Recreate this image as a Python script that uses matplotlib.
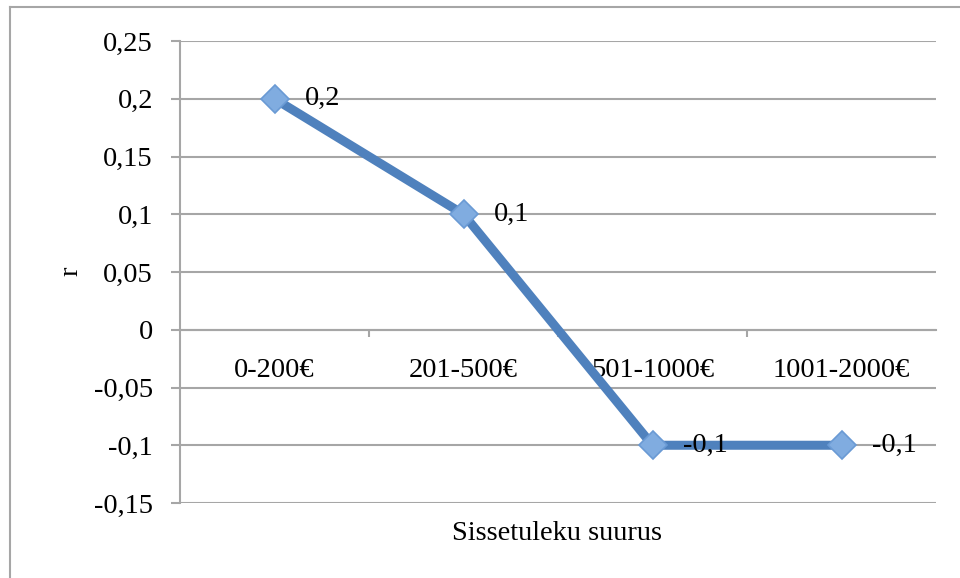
import matplotlib
matplotlib.use('Agg')
import matplotlib.pyplot as plt
from matplotlib.lines import Line2D
from matplotlib.ticker import FixedLocator

categories = ['0-200€', '201-500€', '501-1000€', '1001-2000€']
r_values = [0.2, 0.1, -0.1, -0.1]
value_labels = ['0,2', '0,1', '-0,1', '-0,1']
y_ticks = [0.25, 0.2, 0.15, 0.1, 0.05, 0, -0.05, -0.1, -0.15]
y_tick_labels = ['0,25', '0,2', '0,15', '0,1', '0,05', '0', '-0,05', '-0,1', '-0,15']

plt.rcParams['font.family'] = ['Liberation Serif', 'DejaVu Serif']
fs = 20.5
plt.rcParams['font.size'] = fs

grid_color = '#A6A6A6'
line_color = '#4F81BD'

fig = plt.figure(figsize=(9.6, 5.78), dpi=100)
ax = fig.add_axes([180 / 960, 1 - 503 / 578, 756 / 960, 462 / 578])

x = list(range(len(categories)))
ax.plot(x, r_values, color=line_color, linewidth=6.5, solid_capstyle='round',
        zorder=3)
ax.plot(x, r_values, linestyle='none', marker='D', markersize=14,
        markerfacecolor='#80ACE0', markeredgecolor='#6A9AD4',
        markeredgewidth=1.2, zorder=4)

for xi, yi, lab in zip(x, r_values, value_labels):
    ax.annotate(lab, (xi, yi), xytext=(22, 0), textcoords='offset points',
                ha='left', va='center', fontsize=fs, zorder=5)

ax.set_xlim(-0.5, len(categories) - 0.5)
ax.set_ylim(-0.15, 0.25)

ax.set_yticks(y_ticks)
ax.set_yticklabels(y_tick_labels)
ax.yaxis.grid(True, color=grid_color, linewidth=1.5)
ax.set_axisbelow(True)
ax.tick_params(axis='y', length=6.5, width=1.5, color=grid_color, pad=13)

# category axis sits on the zero line
ax.spines['bottom'].set_position(('data', 0))
ax.set_xticks(x)
ax.set_xticklabels(categories)
ax.tick_params(axis='x', which='major', length=0, pad=20)
ax.xaxis.set_minor_locator(FixedLocator([0.5, 1.5, 2.5]))
ax.tick_params(axis='x', which='minor', length=5, width=1.5, color=grid_color,
               direction='out')

for side in ['top', 'right']:
    ax.spines[side].set_visible(False)
for side in ['left', 'bottom']:
    ax.spines[side].set_color(grid_color)
    ax.spines[side].set_linewidth(1.5)

fig.text(557 / 960, 1 - 533 / 578, 'Sissetuleku suurus', ha='center',
         va='center', fontsize=fs)
fig.text(71 / 960, 1 - 271 / 578, 'r', ha='center', va='center',
         rotation=90, fontsize=fs)

# outer chart frame (only left and top edges are visible)
fig.add_artist(Line2D([10 / 960, 10 / 960], [0, 1 - 7 / 578],
                      transform=fig.transFigure, color=grid_color, linewidth=1.5))
fig.add_artist(Line2D([10 / 960, 1], [1 - 7 / 578, 1 - 7 / 578],
                      transform=fig.transFigure, color=grid_color, linewidth=1.5))

fig.savefig('out.png', dpi=100)
